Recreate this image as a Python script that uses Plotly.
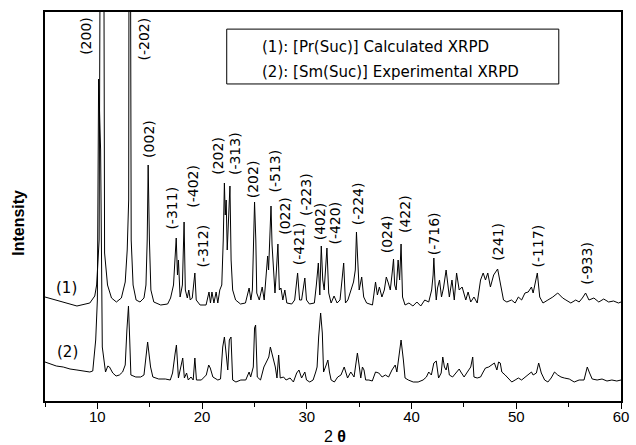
import plotly.graph_objects as go

# ---- data (2θ in degrees, intensity in arbitrary units) ----
two_theta_calc = [5.00, 6.45, 8.05, 9.28, 9.75, 9.93, 10.17, 10.31, 10.59, 10.69, 10.97, 11.35, 11.82, 12.29, 12.66, 12.85, 12.99, 13.04, 13.13, 13.23, 13.41, 13.70, 14.07, 14.45, 14.64, 14.76, 14.85, 14.97, 15.11, 15.39, 16.05, 16.71, 16.99, 17.27, 17.53, 17.65, 17.74, 17.90, 18.12, 18.28, 18.40, 18.59, 18.73, 18.87, 19.06, 19.31, 19.44, 19.81, 20.38, 20.66, 20.80, 20.94, 21.13, 21.34, 21.50, 21.69, 21.88, 22.02, 22.13, 22.21, 22.30, 22.40, 22.54, 22.66, 22.77, 22.92, 23.20, 23.67, 24.14, 24.49, 24.66, 24.80, 24.92, 25.01, 25.13, 25.22, 25.46, 25.74, 25.93, 26.11, 26.26, 26.35, 26.49, 26.58, 26.68, 26.82, 26.96, 27.10, 27.24, 27.38, 27.53, 27.71, 27.90, 28.09, 28.56, 28.84, 29.12, 29.31, 29.50, 29.81, 29.97, 30.25, 30.72, 30.91, 31.10, 31.24, 31.38, 31.52, 31.66, 31.92, 32.09, 32.32, 32.60, 32.89, 33.17, 33.52, 33.69, 33.92, 34.20, 34.46, 34.63, 34.74, 34.86, 35.00, 35.24, 35.43, 35.71, 36.27, 36.56, 36.74, 36.93, 37.17, 37.40, 37.59, 37.78, 37.97, 38.16, 38.28, 38.39, 38.53, 38.72, 38.86, 39.00, 39.14, 39.38, 39.75, 40.13, 40.51, 40.88, 41.26, 41.64, 41.92, 42.06, 42.13, 42.25, 42.36, 42.48, 42.67, 42.86, 43.05, 43.30, 43.61, 43.86, 44.08, 44.30, 44.55, 44.83, 45.18, 45.40, 45.65, 45.96, 46.27, 46.59, 46.84, 47.06, 47.28, 47.53, 47.84, 48.22, 48.47, 48.78, 49.10, 49.54, 49.89, 50.20, 50.51, 50.83, 51.14, 51.45, 51.61, 51.75, 52.01, 52.24, 52.55, 53.02, 53.49, 53.96, 54.43, 54.74, 55.21, 55.68, 56.00, 56.31, 56.62, 56.94, 57.41, 57.88, 58.35, 58.82, 59.29, 59.76, 60.00]
intensity_calc = [104, 100, 95, 98, 105, 116, 161, 600, 600, 148, 116, 103, 99, 103, 119, 151, 201, 600, 600, 161, 116, 101, 99, 103, 116, 161, 236, 161, 111, 99, 96, 97, 103, 116, 163, 126, 141, 104, 116, 179, 111, 103, 111, 101, 103, 128, 101, 96, 96, 109, 98, 109, 98, 109, 98, 111, 116, 161, 218, 186, 201, 151, 181, 215, 141, 111, 101, 97, 98, 113, 101, 111, 161, 199, 161, 108, 101, 114, 101, 126, 145, 131, 161, 195, 156, 128, 108, 131, 157, 111, 113, 101, 111, 98, 97, 101, 128, 101, 101, 123, 101, 97, 98, 116, 138, 106, 155, 121, 111, 153, 108, 98, 105, 98, 101, 138, 98, 101, 111, 119, 131, 169, 141, 111, 124, 104, 98, 96, 119, 106, 114, 104, 111, 124, 118, 111, 129, 142, 116, 111, 141, 121, 157, 104, 96, 98, 95, 99, 95, 101, 99, 111, 126, 143, 116, 101, 113, 121, 104, 113, 131, 104, 121, 101, 128, 111, 114, 101, 109, 99, 104, 98, 121, 128, 121, 128, 114, 126, 132, 118, 101, 99, 101, 98, 104, 101, 108, 109, 114, 108, 116, 128, 104, 98, 101, 104, 108, 103, 101, 98, 101, 99, 103, 108, 101, 103, 99, 102, 99, 100, 98, 99]

two_theta_exp = [5.00, 5.51, 6.08, 6.74, 7.39, 8.05, 8.71, 9.28, 9.56, 9.65, 9.84, 10.00, 10.12, 10.31, 10.47, 10.78, 11.00, 11.16, 11.47, 11.79, 12.10, 12.41, 12.66, 12.82, 12.97, 13.09, 13.20, 13.67, 14.14, 14.45, 14.61, 14.80, 15.08, 15.30, 15.86, 16.49, 16.96, 17.18, 17.43, 17.55, 17.74, 18.00, 18.15, 18.31, 18.52, 18.68, 18.94, 19.15, 19.31, 19.46, 19.93, 20.40, 20.63, 20.78, 21.03, 21.50, 21.76, 21.97, 22.13, 22.29, 22.45, 22.60, 22.76, 22.92, 23.23, 23.70, 24.17, 24.49, 24.64, 24.89, 25.01, 25.11, 25.27, 25.58, 25.90, 26.14, 26.37, 26.52, 26.68, 26.84, 26.99, 27.15, 27.31, 27.46, 27.78, 28.02, 28.40, 28.72, 29.03, 29.25, 29.50, 29.81, 29.97, 30.28, 30.60, 30.85, 30.98, 31.13, 31.32, 31.48, 31.60, 31.85, 32.01, 32.16, 32.32, 32.63, 32.95, 33.26, 33.57, 33.89, 34.20, 34.51, 34.83, 34.99, 35.15, 35.31, 35.46, 35.62, 35.93, 36.25, 36.56, 36.87, 37.19, 37.50, 37.81, 38.13, 38.44, 38.60, 38.81, 39.00, 39.22, 39.38, 39.69, 40.16, 40.63, 41.10, 41.42, 41.64, 41.89, 42.13, 42.36, 42.58, 42.83, 42.98, 43.14, 43.30, 43.45, 43.61, 43.92, 44.24, 44.55, 44.71, 45.02, 45.33, 45.65, 45.84, 45.96, 46.27, 46.59, 46.84, 47.06, 47.37, 47.68, 47.91, 48.15, 48.31, 48.47, 48.62, 48.94, 49.25, 49.57, 49.89, 50.20, 50.51, 50.83, 51.14, 51.45, 51.61, 51.92, 52.14, 52.39, 52.71, 53.02, 53.33, 53.65, 53.96, 54.27, 54.59, 55.06, 55.53, 56.00, 56.47, 56.78, 57.00, 57.25, 57.72, 58.19, 58.66, 59.13, 59.60, 60.00]
intensity_exp = [39, 37, 35, 34, 32, 31, 30, 29, 30, 43, 61, 101, 322, 251, 54, 29, 35, 34, 28, 25, 26, 29, 36, 71, 95, 61, 26, 24, 24, 26, 41, 59, 34, 24, 22, 22, 21, 28, 48, 56, 23, 34, 43, 23, 28, 21, 24, 21, 43, 21, 21, 26, 36, 33, 24, 21, 22, 54, 64, 48, 31, 61, 64, 21, 19, 21, 21, 29, 24, 34, 73, 76, 24, 21, 34, 39, 44, 54, 48, 41, 34, 23, 46, 23, 24, 21, 23, 19, 28, 31, 23, 29, 21, 19, 21, 29, 34, 64, 88, 68, 29, 36, 41, 29, 21, 19, 24, 26, 34, 23, 29, 24, 48, 36, 23, 34, 31, 21, 21, 20, 29, 28, 24, 26, 24, 31, 36, 29, 48, 61, 41, 23, 21, 19, 19, 21, 24, 29, 26, 38, 40, 23, 28, 44, 34, 31, 38, 26, 24, 28, 32, 29, 24, 29, 34, 44, 24, 23, 24, 29, 33, 34, 36, 38, 31, 39, 38, 29, 26, 23, 19, 21, 23, 21, 24, 26, 29, 26, 28, 38, 28, 21, 19, 23, 29, 26, 24, 23, 22, 19, 21, 21, 34, 28, 22, 21, 22, 20, 21, 20, 21]

hkl_labels = ["(200)", "(-202)", "(002)", "(-311)", "(-402)", "(-312)", "(202)", "(-313)", "(202)",
              "(-513)", "(022)", "(-421)", "(-223)", "(402)", "(-420)", "(-224)", "(024)", "(422)",
              "(-716)", "(241)", "(-117)", "(-933)"]
hkl_two_theta = [8.90, 14.45, 14.92, 17.04, 19.06, 20.00, 21.50, 23.10, 24.89,
                 26.87, 27.90, 29.22, 29.88, 31.29, 32.60, 34.86, 37.68, 39.38,
                 42.11, 48.22, 51.98, 56.69]
hkl_label_base = [344, 339, 241, 169, 191, 131, 224, 224, 201,
                  206, 164, 134, 183, 159, 154, 174, 146, 166,
                  144, 138, 131, 114]

x_ticks = [10, 20, 30, 40, 50, 60]
legend_lines = ["(1): [Pr(Suc)] Calculated XRPD", "(2): [Sm(Suc)] Experimental XRPD"]

FONT = "DejaVu Sans"

fig = go.Figure()
fig.add_trace(go.Scatter(x=two_theta_calc, y=intensity_calc, mode="lines",
                         line=dict(color="black", width=1), showlegend=False))
fig.add_trace(go.Scatter(x=two_theta_exp, y=intensity_exp, mode="lines",
                         line=dict(color="black", width=1), showlegend=False))

annotations = []
for lab, xx, yy in zip(hkl_labels, hkl_two_theta, hkl_label_base):
    annotations.append(dict(x=xx, y=yy, xref="x", yref="y", text=lab, textangle=-90,
                            showarrow=False, xanchor="center", yanchor="bottom",
                            font=dict(family=FONT, size=14, color="black")))

annotations.append(dict(x=7.02, y=113, xref="x", yref="y", text="(1)", showarrow=False,
                        font=dict(family=FONT, size=15, color="black")))
annotations.append(dict(x=7.11, y=49, xref="x", yref="y", text="(2)", showarrow=False,
                        font=dict(family=FONT, size=15, color="black")))

for i, (txt, yp) in enumerate(zip(legend_lines, [0.910, 0.846])):
    annotations.append(dict(x=0.373, y=yp, xref="paper", yref="paper", text=txt,
                            showarrow=False, xanchor="left", yanchor="middle",
                            font=dict(family=FONT, size=15, color="black")))

annotations.append(dict(x=-0.0455, y=0.4576, xref="paper", yref="paper", text="<b>Intensity</b>",
                        textangle=-90, showarrow=False, xanchor="center", yanchor="middle",
                        font=dict(family="Liberation Sans, Arial", size=16, color="black")))
annotations.append(dict(x=0.504, y=-0.0925, xref="paper", yref="paper", text="2 <b>θ</b>",
                        showarrow=False, xanchor="center", yanchor="middle",
                        font=dict(family="Liberation Sans, Arial", size=16, color="black")))

fig.update_layout(
    width=636, height=445,
    margin=dict(l=45, r=7, t=12, b=44),
    paper_bgcolor="white", plot_bgcolor="white",
    annotations=annotations,
    shapes=[dict(type="rect", xref="paper", yref="paper", x0=0.3155, x1=0.892, y0=0.815, y1=0.956,
                 line=dict(color="black", width=1), fillcolor="rgba(0,0,0,0)")],
    xaxis=dict(range=[5, 60], tickvals=x_ticks, ticktext=[str(t) for t in x_ticks],
               ticks="outside", ticklen=6, tickwidth=1, tickcolor="black",
               ticklabelstandoff=-5,
               minor=dict(dtick=5, tick0=5, ticks="outside", ticklen=4, tickcolor="black"),
               showline=True, linecolor="black", linewidth=2, mirror=True,
               showgrid=False, zeroline=False,
               tickfont=dict(family="Liberation Sans, Arial", size=15, color="black")),
    yaxis=dict(range=[0, 389], showticklabels=False, ticks="",
               showline=True, linecolor="black", linewidth=2, mirror=True,
               showgrid=False, zeroline=False),
)

fig.write_html("out.html")
